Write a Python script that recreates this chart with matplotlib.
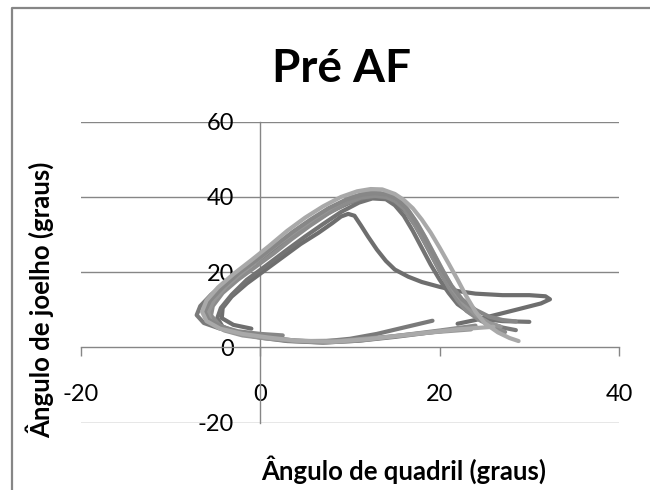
import matplotlib
matplotlib.use("Agg")
import matplotlib.pyplot as plt
from matplotlib.lines import Line2D

plt.rcParams['font.family'] = ['Lato', 'DejaVu Sans']

# ciclos quadril x joelho (graus), um por passada
quadril_1 = [-1, -3, -4.3, -4.2, -3.2, -1.5, 0.5, 2.5, 4.5, 6.5, 8, 9, 9.8, 10.5, 11.2, 12, 13, 14, 15,
             16.5, 18, 20, 22, 24, 27, 30, 31.8, 32.3, 31.3, 29, 26.5, 24, 22]
joelho_1 = [5, 6, 7.8, 10.5, 13.5, 17, 20.5, 24, 27.5, 30.5, 33, 34.8, 35.5, 35, 32.5, 29.5, 26, 23, 20.7,
            18.8, 17.4, 16.1, 15, 14.3, 13.9, 13.9, 13.6, 12.8, 11.7, 10.3, 8.8, 7.3, 6.3]

quadril_2 = [23, 19, 15, 11, 7, 3, 0, -2.5, -4.2, -4.8, -4.4, -3.2, -1.5, 0.5, 3, 5, 7, 9, 11, 12.5, 14,
             15, 16, 17, 18, 19, 20, 21, 22, 23.5, 25, 27, 30]
joelho_2 = [5.2, 4, 2.8, 1.8, 1.3, 1.7, 2.6, 3.8, 5.5, 7.8, 10.5, 14, 18, 21.5, 26, 29.5, 32.8, 36, 38.5, 39.6, 39.4,
            37.8, 35, 31, 26.5, 22, 18, 14.5, 11.5, 9, 7.5, 7, 6.8]

quadril_3 = [26, 22, 17, 12, 8, 4, 1, -2, -4.5, -6, -6.5, -6, -4.7, -3, -1, 1, 3, 5, 7, 9, 10.8, 12.3, 13.6,
             15, 16, 17, 18, 19, 20, 21, 22, 23, 24, 25, 26.5, 27.8, 28.8]
joelho_3 = [5.5, 4.8, 3.5, 2.2, 1.5, 1.8, 2.6, 3.6, 5, 7, 9.5, 12.5, 16, 19.5, 23.2, 27, 31, 34.5, 37.5, 40, 41.5, 42.1, 42,
            40.8, 39.2, 37, 34, 30.5, 26.5, 22.3, 18, 13.5, 9.5, 6.5, 4, 2.5, 1.7]

quadril_4 = [19.2, 16, 13, 10, 7, 4, 1, -2, -4.5, -6.3, -7.1, -6.7, -5.5, -3.8, -2, 0, 2, 4, 6, 8, 10, 11.5,
             13, 14.3, 15.3, 16.3, 17.3, 18.3, 19.3, 20.3, 21.3, 22.5, 24, 25.5, 27, 28.5]
joelho_4 = [7.1, 5.3, 3.6, 2.3, 1.6, 1.8, 2.6, 3.7, 5, 6.5, 8.6, 11, 14, 17.5, 20.5, 23.5, 27, 30.5, 33.5, 36.3, 38.5, 39.7,
            40.1, 39.7, 38.3, 35.8, 32.3, 28, 23.5, 19, 15, 11.5, 8.5, 6.5, 5.3, 4.6]

quadril_5 = [24, 20, 15, 11, 7, 3, 0, -2.5, -4.5, -5.5, -5.3, -4.2, -2.5, -0.5, 1.5, 3.5, 5.5, 7.5, 9.5, 11.2,
             12.7, 14, 15, 16, 17, 18, 19, 20, 21, 22, 23, 24.5, 26, 27.3]
joelho_5 = [5.8, 4.5, 3, 1.8, 1.3, 1.8, 2.8, 4, 5.8, 8.5, 11, 14.5, 18, 21.5, 25, 28.8, 32.3, 35.5, 38.2, 39.8,
            40.3, 40, 39, 37, 33.5, 29.5, 25, 20.5, 16, 12.5, 9.7, 7.2, 5.4, 4.1]

quadril_6 = [2.5, 0, -2.5, -4.5, -5.8, -6.2, -5.6, -4.2, -2.4, -0.4, 1.6, 3.6, 5.6, 7.6, 9.6, 11.3, 12.8, 14.2,
             15.3, 16.3, 17.3, 18.3, 19.3, 20.3, 21.3, 22.5, 24, 25.5, 27, 28.5]
joelho_6 = [3.2, 3.6, 4.3, 5.6, 7.4, 9.5, 12.5, 16, 19.8, 23.3, 27, 30.7, 34, 37, 39.3, 40.6, 41, 40.6,
            39.3, 37, 33.6, 29.5, 25, 20.5, 16.5, 12.8, 10, 8.2, 7.3, 6.9]

quadril_7 = [23.5, 19, 14, 9, 5, 1, -2, -4, -5.5, -5.8, -5.2, -3.8, -2, 0, 2, 4, 6, 8, 10, 11.7, 13, 14.3,
             15.5, 16.5, 17.5, 18.5, 19.5, 20.5, 21.5, 22.7, 24, 25.5, 26.8]
joelho_7 = [4.8, 4, 2.8, 1.8, 1.7, 2.3, 3.2, 4.5, 6.5, 9.5, 12.5, 16.3, 20, 23.8, 27.5, 31, 34.3, 37.3, 39.8, 41, 41.2, 40.6,
            39, 36.5, 33, 28.8, 24.3, 19.8, 15.5, 11.7, 8.7, 6.5, 5.5]

ciclos = [
    (quadril_1, joelho_1, '#6e6e6e'),
    (quadril_2, joelho_2, '#737373'),
    (quadril_4, joelho_4, '#7a7a7a'),
    (quadril_5, joelho_5, '#8c8c8c'),
    (quadril_7, joelho_7, '#969696'),
    (quadril_6, joelho_6, '#878787'),
    (quadril_3, joelho_3, '#a9a9a9'),
]

x_ticks = [-20, 0, 20, 40]
y_ticks = [-20, 0, 20, 40, 60]

fig = plt.figure(figsize=(6.5, 4.9), dpi=100)
ax = fig.add_axes([81 / 650, 67.3 / 490, 538 / 650, 301 / 490])

cinza = '#868686'
for yv in y_ticks:
    if yv != 0:
        ax.axhline(yv, color=cinza, lw=1.0, zorder=1)

for xs, ys, cor in ciclos:
    ax.plot(xs, ys, color=cor, lw=3.0, solid_capstyle='round',
            solid_joinstyle='round', zorder=3)

ax.set_xlim(-20, 40)
ax.set_ylim(-20, 60)
ax.set_xticks(x_ticks)
ax.set_yticks(y_ticks)
ax.set_xticklabels([str(v) for v in x_ticks])
ax.set_yticklabels([str(v) for v in y_ticks])

for lado in ['top', 'right']:
    ax.spines[lado].set_visible(False)
for lado in ['left', 'bottom']:
    ax.spines[lado].set_position(('data', 0))
    ax.spines[lado].set_color(cinza)
    ax.spines[lado].set_linewidth(1.0)
    ax.spines[lado].set_zorder(2)

ax.tick_params(axis='x', direction='out', length=6.5, width=1.0, color=cinza,
               pad=20, labelsize=17, labelcolor='black')
ax.tick_params(axis='y', length=0, pad=19, labelsize=17, labelcolor='black')

fig.text(342 / 650, 1 - 82 / 490, 'Pré AF', ha='center', va='baseline',
         fontsize=33, fontweight='bold')
fig.text(404 / 650, 1 - 470 / 490, 'Ângulo de quadril (graus)', ha='center',
         va='center', fontsize=18.5, fontweight='bold')
fig.text(40 / 650, 1 - 300 / 490, 'Ângulo de joelho (graus)', ha='center',
         va='center', rotation=90, fontsize=18.5, fontweight='bold')

# moldura do gráfico
fig.add_artist(Line2D([12 / 650, 12 / 650, 1], [0, 1 - 8 / 490, 1 - 8 / 490],
                      transform=fig.transFigure, color=cinza, lw=1.6))

fig.savefig('out.png', dpi=100)
